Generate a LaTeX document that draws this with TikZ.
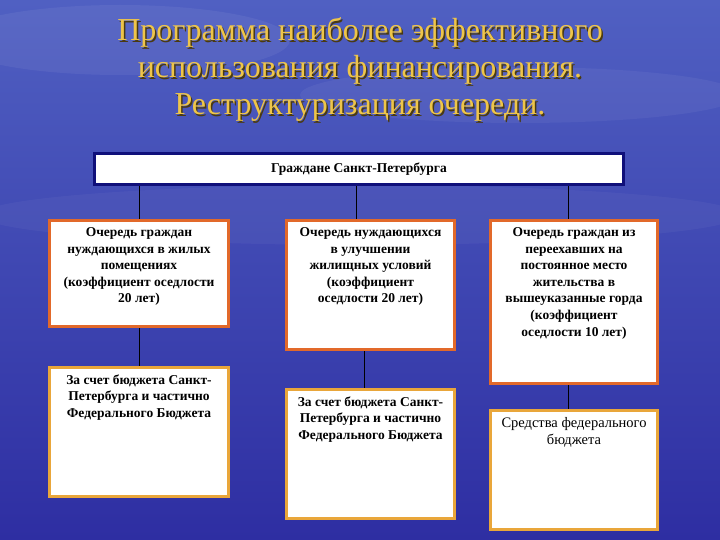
\documentclass[tikz,border=0pt]{standalone}
\usepackage{fontspec}
\setmainfont{Liberation Serif}
\usetikzlibrary{positioning}

\definecolor{skytop}{HTML}{5060C2}
\definecolor{skymid}{HTML}{7686D4}
\definecolor{seadeep}{HTML}{2E2EA2}
\definecolor{titlegold}{HTML}{EEC54A}
\definecolor{titleshade}{HTML}{4A3A10}
\definecolor{navyline}{HTML}{10107A}
\definecolor{queueline}{HTML}{E2692A}
\definecolor{fundline}{HTML}{E9A63A}

\newcommand{\boxtext}[3]{\parbox[c][#2pt][t]{#1pt}{\centering\vspace*{7pt}#3}}

\begin{document}
\begin{tikzpicture}[x=1pt, y=-1pt,
  topbox/.style = {draw=navyline, line width=3pt, fill=white, inner sep=0pt,
    minimum width=529pt, minimum height=31pt, font=\fontsize{13.5}{15}\selectfont\bfseries},
  queue/.style = {draw=queueline, line width=3pt, fill=white, inner sep=0pt,
    font=\fontsize{13.5}{16.6}\selectfont\bfseries},
  fund/.style = {queue, draw=fundline},
  link/.style = {draw=black, line width=0.8pt}]

% background
\useasboundingbox (0,0) rectangle (720,540);
\fill[top color=skytop, middle color=skymid, bottom color=seadeep] (0,0) rectangle (720,540);
\fill[white, opacity=0.06] (120,40) ellipse (170 and 35);
\fill[white, opacity=0.05] (520,95) ellipse (220 and 28);
\fill[white, opacity=0.04] (360,215) ellipse (380 and 30);

% title
\node[text=titleshade, align=center, font=\fontsize{32}{37}\selectfont] (titleshadow) at (361.5,71.5)
  {Программа наиболее эффективного\\ использования финансирования.\\ Реструктуризация очереди.};
\node[text=titlegold, align=center, font=\fontsize{32}{37}\selectfont] (title) at (360,70)
  {Программа наиболее эффективного\\ использования финансирования.\\ Реструктуризация очереди.};

% boxes
\node[topbox] (top) at (359,169) {Граждане Санкт-Петербурга};

\node[queue] (b1) at (139,273.5) {\boxtext{179}{106}{Очередь граждан\\ нуждающихся в жилых\\ помещениях\\ (коэффициент оседлости\\ 20 лет)}};
\node[queue] (b2) at (370.5,285) {\boxtext{168}{129}{Очередь нуждающихся\\ в улучшении\\ жилищных условий\\ (коэффициент\\ оседлости 20 лет)}};
\node[queue] (b3) at (574,302) {\boxtext{167}{163}{Очередь граждан из\\ переехавших на\\ постоянное место\\ жительства в\\ вышеуказанные горда\\ (коэффициент\\ оседлости 10 лет)}};

\node[fund] (b4) [below=38pt of b1] {\boxtext{179}{129}{За счет бюджета Санкт-\\ Петербурга и частично\\ Федерального Бюджета}};
\node[fund] (b5) [below=37pt of b2] {\boxtext{168}{129}{За счет бюджета Санкт-\\ Петербурга и частично\\ Федерального Бюджета}};
\node[fund, font=\fontsize{14.5}{17}\selectfont] (b6) [below=24pt of b3] {\boxtext{167}{119}{Средства федерального\\ бюджета}};

% connectors
\draw[link] (b1.north |- top.south) -- (b1.north);
\draw[link] ([xshift=-14.5pt]b2.north |- top.south) -- ([xshift=-14.5pt]b2.north);
\draw[link] ([xshift=-6pt]b3.north |- top.south) -- ([xshift=-6pt]b3.north);
\draw[link] (b1.south) -- (b4.north);
\draw[link] ([xshift=-6.5pt]b2.south) -- ([xshift=-6.5pt]b5.north);
\draw[link] ([xshift=-6pt]b3.south) -- ([xshift=-6pt]b6.north);
\end{tikzpicture}
\end{document}
